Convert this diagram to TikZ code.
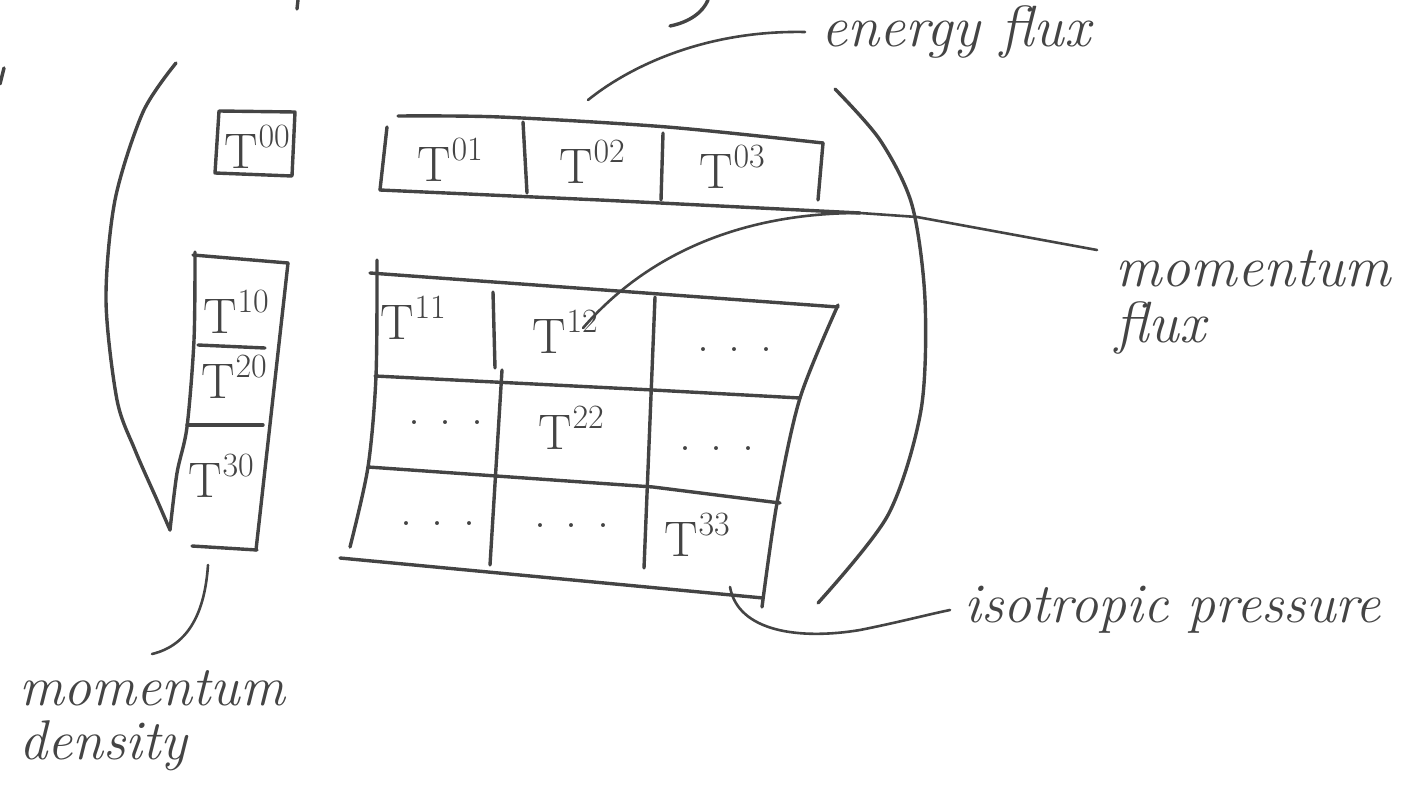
\documentclass[tikz,border=0pt]{standalone}
\definecolor{ink}{RGB}{68,68,68}
% T with a raised two-digit index, as in T^{01}
\newcommand\Tsup[1]{T\kern0.5pt\raisebox{0.42em}{\fontsize{17}{17}\selectfont #1}}
\newcommand\celldots{.\hspace{10pt}.\hspace{10pt}.}
\tikzset{
  boxline/.style={draw=ink, line width=1.7pt, line cap=round, line join=round},
  wireline/.style={draw=ink, line width=1.3pt, line cap=round, line join=round},
  celltext/.style={text=ink, font=\fontsize{25}{25}\selectfont, inner sep=0pt},
  dottext/.style={text=ink, font=\fontsize{24}{24}\selectfont, inner sep=0pt, anchor=base},
  notetext/.style={text=ink, inner ysep=0pt},
}
\begin{document}
\begin{tikzpicture}[x=0.5pt,y=-0.5pt]
\useasboundingbox (0,0) rectangle (1427,786);

% attachment points of the connectors
\coordinate (efstart) at (588,100);
\coordinate (mfcurve) at (583,328);
\coordinate (mfjoin)  at (860,213);
\coordinate (ipstart) at (730,587);
\coordinate (mdstart) at (208,565);

% strokes cut by the sheet edge
\draw[boxline] (0,84) -- (4,68);
\draw[boxline] (298,0) -- (297,9);
\draw[boxline] (670,26) .. controls (690,22) and (703,12) .. (708,0);

% outer brackets
\draw[boxline] plot[smooth] coordinates {(176,63) (143,112) (115,200) (106,300) (117,400) (135,450) (157,500) (170,530)};
\draw[boxline] plot[smooth] coordinates {(835,89) (880,140) (912,205) (925,300) (921,410) (888,515) (818,603)};

% T00 box
\draw[boxline] (219,111) -- (295,112) -- (292,176) -- (215,173) -- cycle;
\node[celltext] (t00) at (257,147) {\Tsup{00}};

% energy-flux row T0i
\draw[boxline] plot[smooth] coordinates {(398,116) (500,117) (667,127) (823,143)};
\draw[boxline] (823,143) -- (818,200);
\draw[boxline] (387,127) -- (380,190);
\draw[boxline] (523,122) -- (527,193);
\draw[boxline] (663,133) -- (661,200);
\draw[boxline] (380,190) -- (600,200) -- (mfjoin);
\node[celltext] (t01) at (450,160) {\Tsup{01}};
\node[celltext] (t02) at (592,162) {\Tsup{02}};
\node[celltext] (t03) at (732,167) {\Tsup{03}};

% momentum-density column Ti0
\draw[boxline] (193,255) -- (288,263);
\draw[boxline] plot[smooth] coordinates {(195,252) (194,340) (187,427) (177,473) (170,530)};
\draw[boxline] (288,263) -- (256,550);
\draw[boxline] (192,546) -- (257,550);
\draw[boxline] (198,345) -- (265,348);
\draw[boxline] (187,425) -- (263,425);
\node[celltext] (t10) at (236,312) {\Tsup{10}};
\node[celltext] (t20) at (234,377) {\Tsup{20}};
\node[celltext] (t30) at (221,476) {\Tsup{30}};

% stress block Tij
\draw[boxline] (370,273) -- (838,307);
\draw[boxline] plot[smooth] coordinates {(377,260) (376,376) (368,467) (350,547)};
\draw[boxline] (375,376) -- (653,390) -- (800,398);
\draw[boxline] (368,467) -- (653,487) -- (780,503);
\draw[boxline] (340,558) -- (763,598);
\draw[boxline] plot[smooth] coordinates {(838,305) (800,398) (777,503) (762,607)};
\draw[boxline] (493,292) -- (495,368);
\draw[boxline] (502,370) -- (490,565);
\draw[boxline] (655,297) -- (644,568);
\node[celltext] (t11) at (413,318) {\Tsup{11}};
\node[celltext] (t12) at (565,332) {\Tsup{12}};
\node[celltext] (t22) at (571,428) {\Tsup{22}};
\node[celltext] (t33) at (697,535) {\Tsup{33}};
\node[dottext] (d13) at (735,351) {\celldots};
\node[dottext] (d21) at (446,424) {\celldots};
\node[dottext] (d23) at (717,450) {\celldots};
\node[dottext] (d31) at (438,525) {\celldots};
\node[dottext] (d32) at (572,527) {\celldots};

% labels
\node[notetext, anchor=west, inner xsep=8pt, font=\itshape\fontsize{29}{29}\selectfont] (energy) at (805,32) {energy flux};
\node[notetext, anchor=north west, inner xsep=9pt, align=left, font=\itshape\fontsize{29}{28}\selectfont] (momflux) at (1097,250) {momentum\\flux};
\node[notetext, anchor=west, inner xsep=7pt, font=\itshape\fontsize{28}{28}\selectfont] (isop) at (950,610) {isotropic pressure};
\node[notetext, anchor=north, inner ysep=8pt, align=left, font=\itshape\fontsize{28}{27}\selectfont] (momdens) at (152,654) {momentum\\density};

% connectors
\draw[wireline] (efstart) .. controls (625,70) and (700,30) .. (energy.west);
\draw[wireline] (mfcurve) .. controls (640,262) and (730,213) .. (mfjoin);
\draw[wireline] (mfjoin) -- (917,217) -- (momflux.north west);
\draw[wireline] (ipstart) .. controls (738,632) and (800,640) .. (860,630) .. controls (900,622) and (930,614) .. (isop.west);
\draw[wireline] (mdstart) .. controls (205,610) and (190,645) .. (momdens.north);
\end{tikzpicture}
\end{document}
